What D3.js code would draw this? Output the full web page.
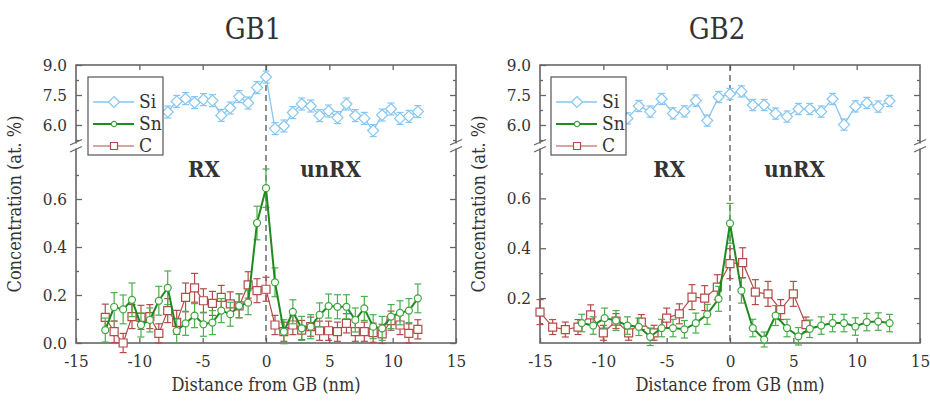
<!DOCTYPE html>
<html><head><meta charset="utf-8">
<script src="https://cdn.jsdelivr.net/npm/d3@7"></script>
<style>
body{margin:0;background:#fff}
svg{display:block}
text{font-family:"DejaVu Serif Condensed","DejaVu Serif",serif;font-stretch:condensed;fill:#333}
</style>
</head><body>
<svg id="c" width="930" height="401"></svg>
<script>
// ---------- DATA ----------
const titles = ["GB1", "GB2"];
const xTicks = [-15, -10, -5, 0, 5, 10, 15];
const upperTicks = [6.0, 7.5, 9.0];
const upperMinor = [5.25, 6.75, 8.25];
const lowerTicksGB1 = [0.0, 0.2, 0.4, 0.6];
const lowerTicksGB2 = [0.2, 0.4, 0.6];
const lowerMinor = [0.1, 0.3, 0.5, 0.7];
const legendNames = ["Si", "Sn", "C"];

// GB1
const gb1X = [-12.69,-11.99,-11.28,-10.58,-9.87,-9.17,-8.46,-7.76,-7.05,-6.35,-5.64,-4.94,-4.23,-3.53,-2.82,-2.12,-1.41,-0.71,0,0.71,1.41,2.12,2.82,3.53,4.23,4.94,5.64,6.35,7.05,7.76,8.46,9.17,9.87,10.58,11.28,11.99];
const gb1SiX = [-7.76,-7.05,-6.35,-5.64,-4.94,-4.23,-3.53,-2.82,-2.12,-1.41,-0.71,0,0.71,1.41,2.12,2.82,3.53,4.23,4.94,5.64,6.35,7.05,7.76,8.46,9.17,9.87,10.58,11.28,11.99];
const gb1Si = [6.65,7.18,7.32,7.12,7.27,7.22,6.48,6.85,7.42,7.1,7.87,8.4,5.82,5.95,6.62,7.05,6.95,6.47,6.7,6.37,7.05,6.47,6.33,5.72,6.5,6.8,6.33,6.43,6.67];
const gb1SiErr = [0.3,0.3,0.3,0.3,0.3,0.3,0.3,0.3,0.3,0.3,0.3,0.3,0.3,0.3,0.3,0.3,0.3,0.3,0.3,0.3,0.3,0.3,0.3,0.3,0.3,0.3,0.3,0.3,0.3];
const gb1Sn = [0.054,0.15,0.14,0.18,0.075,0.096,0.176,0.23,0.05,0.082,0.114,0.078,0.085,0.135,0.12,0.155,0.168,0.50,0.645,0.253,0.047,0.13,0.061,0.068,0.117,0.154,0.151,0.151,0.096,0.144,0.068,0.061,0.11,0.126,0.135,0.186];
const gb1SnErr = [0.05,0.06,0.06,0.07,0.05,0.05,0.06,0.07,0.05,0.05,0.05,0.05,0.05,0.05,0.05,0.05,0.05,0.07,0.08,0.06,0.05,0.05,0.05,0.05,0.05,0.05,0.05,0.05,0.05,0.05,0.05,0.05,0.05,0.05,0.05,0.06];
const gb1C = [0.107,0.047,0.0,0.11,0.107,0.11,0.04,0.135,0.086,0.19,0.23,0.176,0.165,0.19,0.163,0.155,0.242,0.218,0.224,0.075,0.047,0.075,0.054,0.068,0.051,0.051,0.047,0.082,0.047,0.047,0.043,0.038,0.093,0.075,0.04,0.057];
const gb1CErr = [0.055,0.045,0.04,0.05,0.05,0.05,0.04,0.05,0.05,0.06,0.06,0.05,0.05,0.05,0.05,0.05,0.055,0.05,0.05,0.04,0.04,0.04,0.04,0.04,0.04,0.04,0.04,0.04,0.04,0.04,0.04,0.04,0.04,0.04,0.04,0.04];

// GB2
const gb2SnX = [-11.7,-10.8,-9.9,-9.0,-8.1,-7.2,-6.3,-5.4,-4.5,-3.6,-2.7,-1.8,-0.9,0,0.9,1.8,2.7,3.6,4.5,5.4,6.3,7.2,8.1,9.0,9.9,10.8,11.7,12.6];
const gb2SiX = [-8.1,-7.2,-6.3,-5.4,-4.5,-3.6,-2.7,-1.8,-0.9,0,0.9,1.8,2.7,3.6,4.5,5.4,6.3,7.2,8.1,9.0,9.9,10.8,11.7,12.6];
const gb2Si = [6.33,6.95,6.67,7.3,6.58,6.68,7.22,6.22,7.4,7.55,7.68,7.0,7.0,6.57,6.42,6.8,6.8,6.67,7.3,6.02,6.93,7.1,6.92,7.2];
const gb2SiErr = [0.28,0.28,0.28,0.28,0.28,0.28,0.28,0.28,0.28,0.28,0.28,0.28,0.28,0.28,0.28,0.28,0.28,0.28,0.28,0.28,0.28,0.28,0.28,0.28];
const gb2Sn = [0.10,0.09,0.12,0.11,0.09,0.085,0.045,0.08,0.08,0.075,0.10,0.135,0.197,0.50,0.23,0.08,0.034,0.13,0.08,0.047,0.077,0.09,0.10,0.10,0.086,0.104,0.106,0.10];
const gb2SnErr = [0.035,0.035,0.04,0.04,0.035,0.035,0.035,0.035,0.035,0.035,0.04,0.04,0.05,0.08,0.05,0.035,0.03,0.04,0.035,0.035,0.035,0.035,0.035,0.035,0.035,0.035,0.035,0.035];
const gb2CX = [-15,-14,-13,-12,-11,-10,-9,-8,-7,-6,-5,-4,-3,-2,-1,0,1,2,3,4,5,6];
const gb2C = [0.144,0.084,0.074,0.084,0.133,0.061,0.108,0.061,0.104,0.061,0.12,0.137,0.204,0.2,0.244,0.338,0.342,0.224,0.217,0.154,0.217,0.094];
const gb2CErr = [0.05,0.03,0.03,0.03,0.04,0.03,0.03,0.03,0.03,0.03,0.04,0.04,0.05,0.05,0.05,0.06,0.06,0.05,0.05,0.04,0.05,0.03];

// ---------- STYLE ----------
const colSi = "#86c6f2", colSn = "#1f8a1f", colSnMk = "#3aa63a", colC = "#b24c4a";
const axisCol = "#666";

const svg = d3.select("#c");

function drawPanel(opt) {
  const g = svg.append("g");
  const x = d3.scaleLinear().domain([-15, 15]).range([opt.x0, opt.x0 + 380]);
  const yU = d3.scaleLinear().domain([5.2, 9]).range([141, 65]);
  const yL = d3.scaleLinear().domain(opt.lowDom).range([343, 151]);
  const L = opt.x0, R = opt.x0 + 380, T = 65, B = 343;

  // title
  g.append("text").attr("x", (L + R) / 2 - 13).attr("y", 39).attr("text-anchor", "middle")
    .style("font-size", "29px").text(opt.title);

  // ticks (inward)
  const fmtX = d => String(d);
  const xb = g.append("g").attr("transform", `translate(0,${B})`)
    .call(d3.axisBottom(x).tickValues(xTicks).tickSize(-5).tickPadding(12).tickFormat(fmtX));
  const xt = g.append("g").attr("transform", `translate(0,${T})`)
    .call(d3.axisTop(x).tickValues(xTicks.slice(1, -1)).tickSize(-5).tickFormat(""));
  const yl1 = g.append("g").attr("transform", `translate(${L},0)`)
    .call(d3.axisLeft(yU).tickValues(upperTicks).tickSize(-6).tickPadding(9).tickFormat(d3.format(".1f")));
  const yl1m = g.append("g").attr("transform", `translate(${L},0)`)
    .call(d3.axisLeft(yU).tickValues(upperMinor).tickSize(-3).tickFormat(""));
  const yl2 = g.append("g").attr("transform", `translate(${L},0)`)
    .call(d3.axisLeft(yL).tickValues(opt.lowTicks).tickSize(-6).tickPadding(9).tickFormat(d3.format(".1f")));
  const yl2m = g.append("g").attr("transform", `translate(${L},0)`)
    .call(d3.axisLeft(yL).tickValues(lowerMinor).tickSize(-3).tickFormat(""));
  const yr1 = g.append("g").attr("transform", `translate(${R},0)`)
    .call(d3.axisRight(yU).tickValues(upperTicks.slice(0, 2)).tickSize(-6).tickFormat(""));
  const yr1m = g.append("g").attr("transform", `translate(${R},0)`)
    .call(d3.axisRight(yU).tickValues(upperMinor).tickSize(-3).tickFormat(""));
  const yr2 = g.append("g").attr("transform", `translate(${R},0)`)
    .call(d3.axisRight(yL).tickValues(opt.lowTicks).tickSize(-6).tickFormat(""));
  const yr2m = g.append("g").attr("transform", `translate(${R},0)`)
    .call(d3.axisRight(yL).tickValues(lowerMinor).tickSize(-3).tickFormat(""));
  [xb, xt, yl1, yl1m, yl2, yl2m, yr1, yr1m, yr2, yr2m].forEach(a => {
    a.select(".domain").remove();
    a.selectAll("line").attr("stroke", axisCol).attr("stroke-width", 1.3);
    a.selectAll("text").style("font-size", "17px").attr("fill", "#333")
      .style("font-family", '"DejaVu Serif Condensed","DejaVu Serif",serif');
  });

  // frame
  g.append("rect").attr("x", L).attr("y", T).attr("width", R - L).attr("height", B - T)
    .attr("fill", "none").attr("stroke", axisCol).attr("stroke-width", 1.6);

  // axis breaks
  [L, R].forEach(ax => {
    g.append("rect").attr("x", ax - 3).attr("y", 143.5).attr("width", 6).attr("height", 5).attr("fill", "#fff");
    g.append("line").attr("x1", ax - 6).attr("y1", 145).attr("x2", ax + 6).attr("y2", 139.5)
      .attr("stroke", axisCol).attr("stroke-width", 1.3);
    g.append("line").attr("x1", ax - 6).attr("y1", 152).attr("x2", ax + 6).attr("y2", 146.5)
      .attr("stroke", axisCol).attr("stroke-width", 1.3);
  });

  // dashed GB line
  g.append("line").attr("x1", x(0)).attr("x2", x(0)).attr("y1", T).attr("y2", B)
    .attr("stroke", "#555").attr("stroke-width", 1.3).attr("stroke-dasharray", "6,4");

  // axis labels
  g.append("text").attr("x", (L + R) / 2).attr("y", 391).attr("text-anchor", "middle")
    .style("font-size", "18px").text("Distance from GB (nm)");
  g.append("text").attr("transform", `translate(${L - 55},${204}) rotate(-90)`).attr("text-anchor", "middle")
    .style("font-size", "18px").text("Concentration (at. %)");

  // region labels
  g.append("text").attr("x", x(opt.rxPos)).attr("y", 177).attr("text-anchor", "middle")
    .style("font-size", "22px").style("font-weight", "bold").attr("fill", "#111").text("RX");
  g.append("text").attr("x", x(opt.unrxPos)).attr("y", 177).attr("text-anchor", "middle")
    .style("font-size", "22px").style("font-weight", "bold").attr("fill", "#111").text("unRX");

  // series helper
  function series(xs, ys, es, yS, st) {
    const pts = xs.map((v, i) => ({ x: v, y: ys[i], e: es[i] }));
    const sg = g.append("g");
    sg.selectAll("g.eb").data(pts).join("g").each(function (d) {
      const s = d3.select(this);
      const cx = x(d.x), y1 = yS(d.y + d.e), y2 = yS(d.y - d.e);
      s.append("line").attr("x1", cx).attr("x2", cx).attr("y1", y1).attr("y2", y2);
      s.append("line").attr("x1", cx - 3.5).attr("x2", cx + 3.5).attr("y1", y1).attr("y2", y1);
      s.append("line").attr("x1", cx - 3.5).attr("x2", cx + 3.5).attr("y1", y2).attr("y2", y2);
    }).selectAll("line").attr("stroke", st.eb).attr("stroke-width", 1.2);
    sg.append("path").datum(pts)
      .attr("d", d3.line().x(d => x(d.x)).y(d => yS(d.y)))
      .attr("fill", "none").attr("stroke", st.line).attr("stroke-width", st.lw);
    sg.selectAll("path.mk").data(pts).join("path")
      .attr("transform", d => `translate(${x(d.x)},${yS(d.y)})`)
      .attr("d", st.sym)
      .attr("fill", "#fff").attr("stroke", st.mk).attr("stroke-width", 1.2);
  }
  const diamond = "M0,-5.5L5.5,0L0,5.5L-5.5,0Z";
  const circle = d3.symbol(d3.symbolCircle, 38)();
  const square = "M-4,-4H4V4H-4Z";

  series(opt.siX, opt.si, opt.siErr, yU, { eb: colSi, line: colSi, lw: 1.3, mk: colSi, sym: diamond });
  series(opt.cX, opt.c, opt.cErr, yL, { eb: colC, line: colC, lw: 1.2, mk: colC, sym: square });
  series(opt.snX, opt.sn, opt.snErr, yL, { eb: "#4cae4c", line: colSn, lw: 2, mk: colSnMk, sym: circle });

  // legend
  const lg = g.append("g");
  const lx = L + opt.legDx;
  lg.append("rect").attr("x", lx).attr("y", 77).attr("width", 75).attr("height", 78)
    .attr("fill", "#fff").attr("stroke", "#555").attr("stroke-width", 1.2);
  const legSt = [
    { c: colSi, lw: 1.3, mk: colSi, sym: diamond },
    { c: colSn, lw: 2, mk: colSnMk, sym: d3.symbol(d3.symbolCircle, 22)() },
    { c: colC, lw: 1.2, mk: colC, sym: "M-3.5,-3.5H3.5V3.5H-3.5Z" }
  ];
  legendNames.forEach((n, i) => {
    const yy = 102 + i * 22;
    lg.append("line").attr("x1", lx + 5).attr("x2", lx + 46).attr("y1", yy).attr("y2", yy)
      .attr("stroke", legSt[i].c).attr("stroke-width", legSt[i].lw);
    lg.append("path").attr("transform", `translate(${lx + 26},${yy})`).attr("d", legSt[i].sym)
      .attr("fill", "#fff").attr("stroke", legSt[i].mk).attr("stroke-width", 1.2);
    lg.append("text").attr("x", lx + 51).attr("y", yy + 6).style("font-size", "19px").text(n);
  });
}

drawPanel({
  title: titles[0], x0: 76, lowDom: [0, 0.8], lowTicks: lowerTicksGB1,
  siX: gb1SiX, si: gb1Si, siErr: gb1SiErr,
  snX: gb1X, sn: gb1Sn, snErr: gb1SnErr,
  cX: gb1X, c: gb1C, cErr: gb1CErr,
  rxPos: -4.9, unrxPos: 5.1, legDx: 12
});
drawPanel({
  title: titles[1], x0: 540, lowDom: [0.02, 0.79], lowTicks: lowerTicksGB2,
  siX: gb2SiX, si: gb2Si, siErr: gb2SiErr,
  snX: gb2SnX, sn: gb2Sn, snErr: gb2SnErr,
  cX: gb2CX, c: gb2C, cErr: gb2CErr,
  rxPos: -4.8, unrxPos: 5.1, legDx: 11
});
</script>
</body></html>
